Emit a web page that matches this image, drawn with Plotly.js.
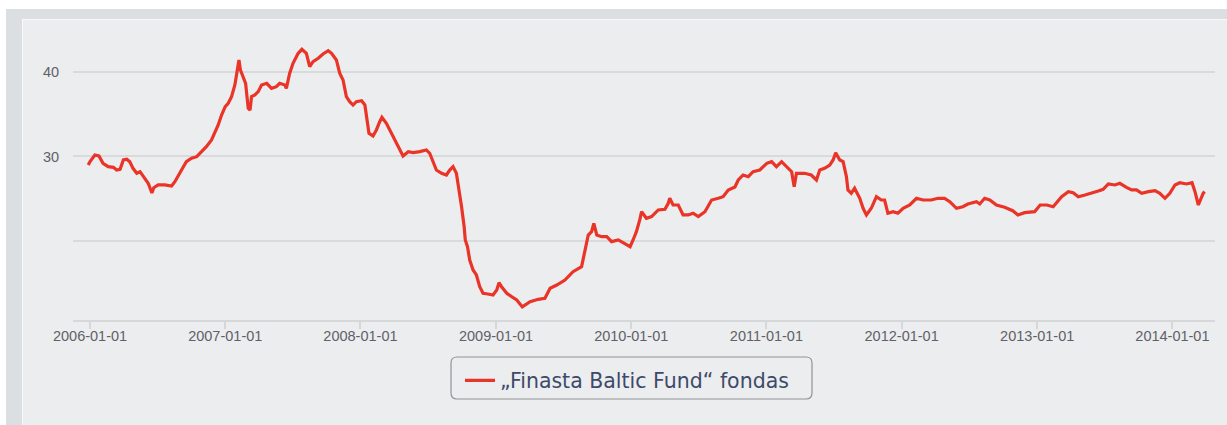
<!DOCTYPE html>
<html>
<head>
<meta charset="utf-8">
<script src="https://cdn.plot.ly/plotly-3.0.1.min.js"></script>
<style>
  html, body { margin: 0; padding: 0; background: #ffffff; width: 1227px; height: 425px; overflow: hidden; }
  #frame { position: absolute; left: 6px; top: 9px; width: 1221px; height: 416px; background: #dcdfe2; }
  #panel { position: absolute; left: 22px; top: 19px; width: 1205px; height: 406px; background: #ecedef;
           box-shadow: inset 1px 1px 0 #f7f8f9; }
  #chart { position: absolute; left: 22px; top: 19px; width: 1205px; height: 406px; }
</style>
</head>
<body>
<div id="frame"></div>
<div id="panel"></div>
<div id="chart"></div>
<script>
// ---- data ----
const seriesName = "\u201EFinasta Baltic Fund\u201C fondas";

const dates = [
  "2005-12-27","2006-01-01","2006-01-14","2006-01-25","2006-02-05","2006-02-19","2006-03-05","2006-03-14","2006-03-23",
  "2006-04-01","2006-04-10","2006-04-18","2006-04-27","2006-05-07","2006-05-16","2006-05-29","2006-06-07","2006-06-17",
  "2006-06-22","2006-07-04","2006-07-22","2006-08-09","2006-08-18","2006-09-05","2006-09-18","2006-10-02","2006-10-16",
  "2006-10-29","2006-11-11","2006-11-25","2006-12-04","2006-12-13","2006-12-22",
  "2007-01-01","2007-01-09","2007-01-18","2007-01-27","2007-01-31","2007-02-05","2007-02-07","2007-02-11","2007-02-18",
  "2007-02-25","2007-03-04","2007-03-09","2007-03-13","2007-03-22","2007-03-31","2007-04-09","2007-04-23","2007-05-06",
  "2007-05-19","2007-05-28","2007-06-11","2007-06-15","2007-06-24","2007-07-03","2007-07-12","2007-07-17","2007-07-27",
  "2007-08-08","2007-08-17","2007-08-26","2007-09-09","2007-09-22","2007-10-06","2007-10-15","2007-10-28","2007-11-06",
  "2007-11-15","2007-11-20","2007-11-24","2007-12-03","2007-12-12","2007-12-21",
  "2008-01-04","2008-01-13","2008-01-17","2008-01-24","2008-02-04","2008-02-13","2008-02-22","2008-02-28","2008-03-11",
  "2008-03-20","2008-03-29","2008-04-07","2008-04-16","2008-04-25","2008-05-09","2008-05-22","2008-06-09","2008-06-27",
  "2008-07-06","2008-07-15","2008-07-24","2008-08-07","2008-08-20","2008-08-29","2008-09-07","2008-09-16","2008-09-22",
  "2008-09-30","2008-10-07","2008-10-10","2008-10-16","2008-10-22","2008-10-31","2008-11-09","2008-11-18","2008-11-27",
  "2008-12-10","2008-12-24",
  "2009-01-03","2009-01-09","2009-01-16","2009-01-30","2009-02-12","2009-02-26","2009-03-13","2009-04-03","2009-04-25",
  "2009-05-13","2009-05-27","2009-06-14","2009-07-06","2009-07-28","2009-08-20","2009-08-29","2009-09-07","2009-09-16",
  "2009-09-22","2009-09-30","2009-10-13","2009-10-27","2009-11-09","2009-11-27","2009-12-15","2009-12-29",
  "2010-01-06","2010-01-15","2010-01-24","2010-01-29","2010-02-11","2010-02-25","2010-03-15","2010-04-02","2010-04-11",
  "2010-04-15","2010-04-24","2010-05-08","2010-05-21","2010-06-04","2010-06-17","2010-07-01","2010-07-19","2010-08-06",
  "2010-08-24","2010-09-06","2010-09-20","2010-10-08","2010-10-17","2010-10-30","2010-11-13","2010-11-26","2010-12-14",
  "2011-01-02","2011-01-15","2011-01-28","2011-02-11","2011-02-24","2011-03-10","2011-03-17","2011-03-23","2011-04-14",
  "2011-05-02","2011-05-16","2011-05-25","2011-06-07","2011-06-21","2011-06-30","2011-07-07","2011-07-18","2011-07-27",
  "2011-08-05","2011-08-09","2011-08-18","2011-08-27","2011-09-10","2011-09-19","2011-09-28","2011-10-11","2011-10-25",
  "2011-11-07","2011-11-16","2011-11-25","2011-12-09","2011-12-22",
  "2012-01-05","2012-01-23","2012-02-10","2012-02-28","2012-03-21","2012-04-08","2012-04-26","2012-05-10","2012-05-28",
  "2012-06-14","2012-06-28","2012-07-21","2012-07-30","2012-08-12","2012-08-26","2012-09-13","2012-10-05","2012-10-27",
  "2012-11-10","2012-11-28","2012-12-25",
  "2013-01-09","2013-01-27","2013-02-13","2013-03-08","2013-03-26","2013-04-08","2013-04-22","2013-05-10","2013-05-28",
  "2013-06-15","2013-06-28","2013-07-12","2013-07-30","2013-08-12","2013-08-30","2013-09-13","2013-09-26","2013-10-10",
  "2013-10-28","2013-11-15","2013-11-28","2013-12-12","2013-12-25",
  "2014-01-08","2014-01-21","2014-02-08","2014-02-23","2014-03-03","2014-03-12","2014-03-19","2014-03-25","2014-03-29"
];

const values = [
  28.99,29.39,30.18,30.06,29.19,28.80,28.72,28.40,28.48,
  29.59,29.67,29.39,28.60,28.01,28.20,27.42,26.83,25.68,
  26.30,26.63,26.63,26.50,27.02,28.40,29.39,29.79,29.98,
  30.57,31.16,31.95,32.75,33.73,34.91,
  35.90,36.30,37.08,38.46,39.44,41.03,41.42,40.24,39.44,
  38.66,35.70,35.50,37.08,37.28,37.67,38.46,38.66,38.07,
  38.26,38.66,38.46,38.07,39.85,41.03,41.81,42.21,42.68,
  42.21,40.63,41.22,41.62,42.13,42.52,42.21,41.42,39.85,
  39.05,38.07,37.08,36.49,36.09,36.49,
  36.60,36.09,34.71,32.75,32.43,33.14,34.12,34.64,33.93,
  33.14,32.34,31.56,30.97,30.06,30.57,30.45,30.57,30.77,
  30.38,29.39,28.40,28.01,27.81,28.40,28.80,28.01,26.43,
  24.06,21.69,20.12,19.33,17.75,16.57,15.98,14.59,13.81,
  13.73,13.61,
  14.20,15.07,14.59,13.81,13.41,13.02,12.20,12.82,13.10,
  13.22,14.40,14.79,15.38,16.37,16.96,18.93,20.71,21.10,
  22.09,20.71,20.51,20.51,19.92,20.12,19.64,19.33,
  20.12,21.10,22.49,23.47,22.69,22.88,23.67,23.75,24.46,
  25.05,24.26,24.26,23.08,23.08,23.28,22.88,23.47,24.85,
  25.05,25.24,26.04,26.40,27.22,27.81,27.61,28.20,28.40,
  29.19,29.39,28.80,29.39,28.80,28.20,26.43,28.01,28.01,
  27.81,27.22,28.40,28.60,28.99,29.59,30.45,29.59,29.39,
  27.61,26.04,25.64,26.24,25.05,23.87,23.08,23.87,25.24,
  24.85,24.85,23.28,23.47,23.28,
  23.87,24.26,25.05,24.85,24.85,25.05,25.05,24.65,23.87,
  24.06,24.38,24.65,24.38,25.05,24.85,24.26,23.99,23.59,
  23.08,23.35,23.47,
  24.26,24.26,24.06,25.24,25.84,25.72,25.24,25.44,25.64,
  25.92,26.12,26.75,26.63,26.83,26.35,26.04,26.04,25.64,
  25.84,25.96,25.64,25.05,25.64,
  26.63,26.90,26.75,26.90,25.84,24.26,25.05,25.64,25.84
];

const xTickVals = ["2006-01-01","2007-01-01","2008-01-01","2009-01-01","2010-01-01","2011-01-01","2012-01-01","2013-01-01","2014-01-01"];
const xTickText = ["2006-01-01","2007-01-01","2008-01-01","2009-01-01","2010-01-01","2011-01-01","2012-01-01","2013-01-01","2014-01-01"];
const yTickVals = [20, 30, 40];
const yTickText = ["", "30", "40"];

// ---- layout (pixel geometry of the plot area inside the 1205x406 chart div) ----
const W = 1205, H = 406;
const M = { l: 51, r: 12, t: 6, b: 105 };
const plotW = W - M.l - M.r, plotH = H - M.t - M.b;
// page-pixel -> paper helpers (chart div starts at page x=22, y=19)
const px = X => (X - 22 - M.l) / plotW;
const py = Y => (H - M.b - (Y - 19)) / plotH;

// rounded legend frame
const lx0 = px(451), lx1 = px(812), ly0 = py(399), ly1 = py(357);
const rx = 6 / plotW, ry = 6 / plotH;
const legPath =
  `M ${lx0 + rx},${ly1} L ${lx1 - rx},${ly1} Q ${lx1},${ly1} ${lx1},${ly1 - ry} ` +
  `L ${lx1},${ly0 + ry} Q ${lx1},${ly0} ${lx1 - rx},${ly0} ` +
  `L ${lx0 + rx},${ly0} Q ${lx0},${ly0} ${lx0},${ly0 + ry} ` +
  `L ${lx0},${ly1 - ry} Q ${lx0},${ly1} ${lx0 + rx},${ly1} Z`;

const trace = {
  type: "scatter",
  mode: "lines",
  name: seriesName,
  x: dates,
  y: values,
  line: { color: "#ea3427", width: 3.2 },
  hoverinfo: "skip"
};

const tickFont = { family: "Liberation Sans, Arial, sans-serif", size: 14.5, color: "#5e6167" };

const layout = {
  width: W,
  height: H,
  margin: M,
  paper_bgcolor: "rgba(0,0,0,0)",
  plot_bgcolor: "rgba(0,0,0,0)",
  showlegend: true,
  legend: {
    x: px(460),
    xanchor: "left",
    y: py(380.5),
    yanchor: "middle",
    bgcolor: "rgba(0,0,0,0)",
    borderwidth: 0,
    font: { family: "DejaVu Sans, sans-serif", size: 20.5, color: "#3d4a6a" }
  },
  xaxis: {
    type: "date",
    range: ["2005-11-16", "2014-04-26"],
    tickmode: "array",
    tickvals: xTickVals,
    ticktext: xTickText,
    showgrid: false,
    zeroline: false,
    showline: true,
    linecolor: "#d6d7d9",
    linewidth: 2,
    ticks: "outside",
    ticklen: 7,
    tickwidth: 2,
    tickcolor: "#d6d7d9",
    ticklabelstandoff: -5,
    tickfont: tickFont
  },
  yaxis: {
    range: [10.65, 45.56],
    tickmode: "array",
    tickvals: yTickVals,
    ticktext: yTickText,
    showgrid: true,
    gridcolor: "#d9dadc",
    gridwidth: 2,
    zeroline: false,
    showline: false,
    ticks: "outside",
    ticklen: 10,
    tickcolor: "rgba(0,0,0,0)",
    tickfont: tickFont
  },
  shapes: [{
    type: "path",
    xref: "paper",
    yref: "paper",
    path: legPath,
    line: { color: "#909396", width: 1.2 },
    fillcolor: "rgba(0,0,0,0)",
    layer: "below"
  }]
};

Plotly.newPlot("chart", [trace], layout, { staticPlot: true, displayModeBar: false });
</script>
</body>
</html>
